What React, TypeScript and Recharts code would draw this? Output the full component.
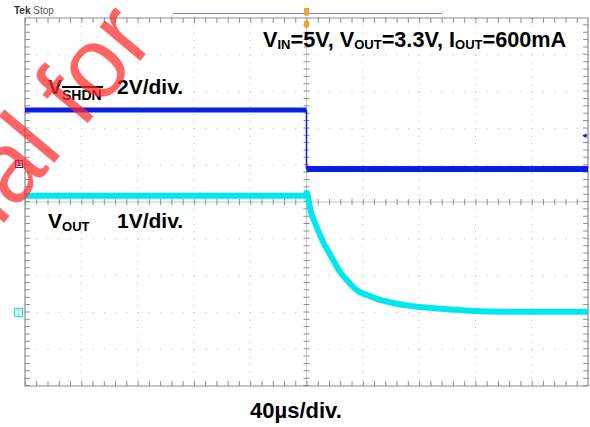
import { ComposedChart, Line, XAxis, YAxis, CartesianGrid, ReferenceLine, ReferenceArea } from 'recharts';

// horizontal: 40us/div, 10 divisions, trigger at centre
const timeTicks = [-200, -160, -120, -80, -40, 0, 40, 80, 120, 160, 200];
// CH1 (VSHDN) 2V/div, CH2 (VOUT) 1V/div
const ch1Ticks = [-12, -10, -8, -6, -4, -2, 0, 2, 4, 6, 8];
const ch2Ticks = [-2, -1, 0, 1, 2, 3, 4, 5, 6, 7, 8];

// VSHDN trace (us, V)
const vshdnTime = [-200, 0, 0, 200];
const vshdnVolt = [3.0, 3.0, -0.2, -0.2];

// VOUT trace (us, V)
const voutTime = [-200, -1, 0, 3, 7.5, 12, 16.7, 20, 23, 30, 36, 43, 50, 60, 71, 83, 95, 107, 118, 140, 200];
const voutVolt = [3.17, 3.17, 3.25, 2.75, 2.3, 1.9, 1.58, 1.35, 1.15, 0.82, 0.6, 0.47, 0.37, 0.27, 0.19, 0.14, 0.1, 0.07, 0.04, 0.02, 0.02];

const toPts = (ts: number[], vs: number[]) => ts.map((t, i) => ({ t, v: vs[i] }));

const vshdnHigh = toPts(vshdnTime.slice(0, 2), vshdnVolt.slice(0, 2));
const vshdnEdge = toPts(vshdnTime.slice(1, 3), vshdnVolt.slice(1, 3));
const vshdnLow = toPts(vshdnTime.slice(2), vshdnVolt.slice(2));
const vout = toPts(voutTime, voutVolt);

const BLUE = '#0a1ee8';
const CYAN = '#00e8ee';
const GRID = '#b4b4b4';
const FRAME = '#8e8e8e';
const FONT = '"Liberation Sans", Arial, sans-serif';

const label: React.CSSProperties = {
  position: 'absolute',
  fontFamily: FONT,
  fontWeight: 'bold',
  fontSize: 21,
  lineHeight: 1,
  color: '#000',
  whiteSpace: 'nowrap',
};

export default function App() {
  return (
    <div style={{ position: 'absolute', left: 0, top: 0, width: 590, height: 427, background: '#fff', overflow: 'hidden' }}>
      <ComposedChart width={590} height={427} margin={{ top: 18, right: 2, bottom: 41, left: 25 }}>
        <XAxis dataKey="t" type="number" domain={[-200, 200]} ticks={timeTicks} hide allowDuplicatedCategory={false} />
        <YAxis yAxisId="ch1" type="number" domain={[-12, 8]} ticks={ch1Ticks} hide />
        <YAxis yAxisId="ch2" type="number" domain={[-2, 8]} ticks={ch2Ticks} hide />
        <CartesianGrid yAxisId="ch2" vertical={false} stroke={GRID} strokeDasharray="1 10.26" />
        <CartesianGrid yAxisId="ch2" horizontal={false} stroke={GRID} strokeDasharray="1 6.36" />
        {/* centre cross with minor ticks */}
        <ReferenceLine yAxisId="ch2" x={0} stroke="#c8c8c8" />
        <ReferenceLine yAxisId="ch2" y={3} stroke="#c8c8c8" />
        <ReferenceLine yAxisId="ch2" x={0} stroke={FRAME} strokeWidth={6} strokeDasharray="1 6.36" />
        <ReferenceLine yAxisId="ch2" y={3} stroke={FRAME} strokeWidth={6} strokeDasharray="1 10.26" />
        {/* edge ticks */}
        <ReferenceLine yAxisId="ch2" x={-198.3} stroke={FRAME} strokeWidth={5} strokeDasharray="1 6.36" />
        <ReferenceLine yAxisId="ch2" x={198.3} stroke={FRAME} strokeWidth={5} strokeDasharray="1 6.36" />
        <ReferenceLine yAxisId="ch2" y={-1.93} stroke={FRAME} strokeWidth={5} strokeDasharray="1 10.26" />
        <ReferenceLine yAxisId="ch2" y={7.93} stroke={FRAME} strokeWidth={5} strokeDasharray="1 10.26" />
        <ReferenceArea yAxisId="ch2" x1={-200} x2={200} y1={-2} y2={8} fill="none" fillOpacity={0} stroke={FRAME} strokeWidth={1.2} />

        <Line data={vshdnHigh} dataKey="v" yAxisId="ch1" type="linear" stroke={BLUE} strokeWidth={5} dot={false} isAnimationActive={false} />
        <Line data={vshdnEdge} dataKey="v" yAxisId="ch1" type="linear" stroke={BLUE} strokeWidth={1.5} dot={false} isAnimationActive={false} />
        <Line data={vshdnLow} dataKey="v" yAxisId="ch1" type="linear" stroke={BLUE} strokeWidth={6} dot={false} isAnimationActive={false} />
        <Line data={vout} dataKey="v" yAxisId="ch2" type="monotone" stroke={CYAN} strokeWidth={6} dot={false} isAnimationActive={false} />
      </ComposedChart>

      {/* scope header */}
      <div style={{ position: 'absolute', left: 14, top: 6, fontFamily: FONT, fontSize: 10, lineHeight: 1, color: '#333', whiteSpace: 'nowrap' }}>
        <b>Tek</b> <span style={{ color: '#555' }}>Stop</span>
      </div>
      <div style={{ position: 'absolute', left: 173, top: 13, width: 269, height: 1, background: '#7f7fff' }} />
      <div style={{ position: 'absolute', left: 304, top: 8, width: 5, height: 8, background: '#f5a21f', borderRadius: '0 0 3px 3px' }} />
      <div style={{ position: 'absolute', left: 304, top: 21, width: 5, height: 7, background: '#f5a21f', borderRadius: '0 0 3px 3px' }} />

      {/* channel markers */}
      <div style={{ position: 'absolute', left: 15, top: 160, width: 6, height: 6, border: `1px solid ${BLUE}`, color: BLUE, fontFamily: FONT, fontSize: 7, fontWeight: 'bold', lineHeight: '6px', textAlign: 'center' }}>1</div>
      <div style={{ position: 'absolute', left: 14, top: 308, width: 7, height: 7, border: `1px solid ${CYAN}`, color: CYAN, fontFamily: FONT, fontSize: 7, lineHeight: '7px', textAlign: 'center' }}>2</div>
      <div style={{ position: 'absolute', left: 582, top: 131, color: BLUE, fontFamily: FONT, fontSize: 9, lineHeight: 1 }}>◂</div>

      {/* annotations */}
      <div style={{ ...label, left: 263, top: 29, fontSize: 21.7 }}>
        V<span style={{ fontSize: 13, verticalAlign: '-2px' }}>IN</span>=5V, V<span style={{ fontSize: 13, verticalAlign: '-2px' }}>OUT</span>=3.3V, I<span style={{ fontSize: 13, verticalAlign: '-2px' }}>OUT</span>=600mA
      </div>
      <div style={{ ...label, left: 48, top: 76 }}>
        V<span style={{ fontSize: 14, verticalAlign: '-6px' }}>SHDN</span>
      </div>
      <div style={{ position: 'absolute', left: 62, top: 86, width: 41, height: 1.5, background: '#000' }} />
      <div style={{ ...label, left: 117, top: 76 }}>2V/div.</div>
      <div style={{ ...label, left: 48, top: 210 }}>
        V<span style={{ fontSize: 13, verticalAlign: '-3px' }}>OUT</span>
      </div>
      <div style={{ ...label, left: 117, top: 210 }}>1V/div.</div>
      <div style={{ ...label, left: 250, top: 400, fontSize: 22 }}>40µs/div.</div>

      {/* watermark */}
      <svg width={590} height={427} style={{ position: 'absolute', left: 0, top: 0, pointerEvents: 'none' }}>
        <text x={0} y={0} transform="translate(-18 249) rotate(-50)" fontFamily={FONT} fontSize={100} fill="#ff2a2a" fillOpacity={0.72}>
          tial for
        </text>
      </svg>
    </div>
  );
}
